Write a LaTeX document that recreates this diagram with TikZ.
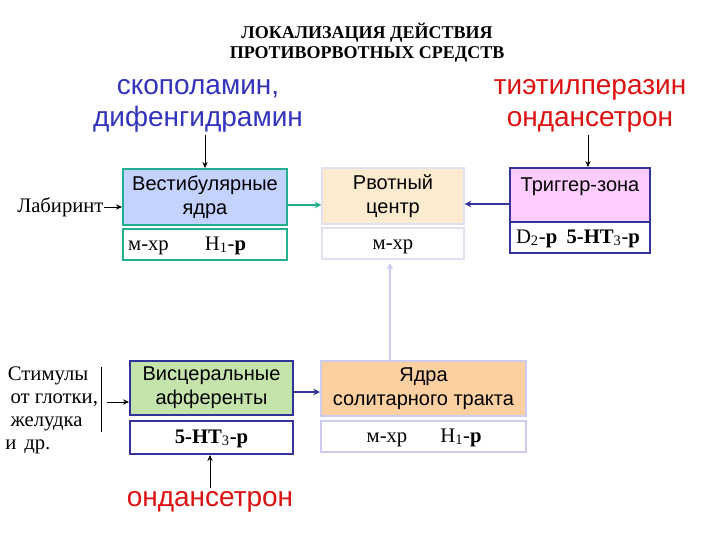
\documentclass[tikz,border=0pt]{standalone}
\usepackage{fontspec}
\setmainfont{Liberation Serif}
\newfontfamily\arial{Liberation Sans}
\usetikzlibrary{arrows.meta}
\definecolor{dblue}{RGB}{51,51,187}
\definecolor{dred}{RGB}{221,17,17}
\definecolor{teal2}{RGB}{32,176,144}
\definecolor{vestfill}{RGB}{196,210,255}
\definecolor{rvotfill}{RGB}{253,235,208}
\definecolor{rvotline}{RGB}{224,224,242}
\definecolor{trigfill}{RGB}{255,204,255}
\definecolor{trigline}{RGB}{51,51,153}
\definecolor{viscfill}{RGB}{196,228,172}
\definecolor{solfill}{RGB}{252,208,160}
\definecolor{solline}{RGB}{204,204,240}
\tikzset{
  bx/.style={draw, rectangle, line width=1.5pt, inner sep=0pt, anchor=center},
  lbl/.style={font=\arial\fontsize{15}{18}\selectfont, align=center, inner sep=0pt},
  sm/.style={font=\fontsize{15.5}{17}\selectfont, inner sep=0pt, anchor=base},
  big/.style={font=\arial\fontsize{21}{24}\selectfont, align=center, inner sep=0pt},
  arr/.style={-{Stealth[length=4.5pt,width=4pt]}},
}
\begin{document}
\begin{tikzpicture}[x=0.75pt,y=-0.75pt]
\useasboundingbox (0,0) rectangle (720,540);
% title
\node[font=\bfseries\fontsize{13.5}{15}\selectfont, align=center, inner sep=0pt] (title) at (367,43) {ЛОКАЛИЗАЦИЯ ДЕЙСТВИЯ\\ПРОТИВОРВОТНЫХ СРЕДСТВ};
% drug labels
\node[big, text=dblue] (scop) at (198,106) {скополамин,\\дифенгидрамин};
\node[big, text=dred] (tiet) at (590,106) {тиэтилперазин\\ондансетрон};
\node[big, text=dred] (ond) at (210,502) {ондансетрон};
% vestibular
\node[bx, draw=teal2, fill=vestfill, minimum width=123pt, minimum height=42pt] (vest) at (205,197) {};
\node[lbl] (vestt) at (vest.center) {Вестибулярные\\ядра};
\node[bx, draw=teal2, fill=white, minimum width=123pt, minimum height=23.25pt] (vestb) at (205,244.5) {};
\node[sm] (vestb1) at (148.5,250) {м-хр};
\node[sm] (vestb2) at (225.5,250) {H\textsubscript{1}-\textbf{р}};
% rvotny
\node[bx, draw=rvotline, line width=1pt, fill=rvotfill, minimum width=106.5pt, minimum height=42pt] (rvot) at (393,196) {};
\node[lbl] (rvott) at (rvot.center) {Рвотный\\центр};
\node[bx, draw=rvotline, line width=1pt, fill=white, minimum width=106.5pt, minimum height=23.25pt] (rvotb) at (393,243.5) {};
\node[sm] (rvotb1) at (393,249) {м-хр};
% trigger
\node[bx, draw=trigline, fill=trigfill, minimum width=105pt, minimum height=40.5pt] (trig) at (580,195) {};
\node[lbl, anchor=base] (trigt) at (580,191) {Триггер-зона};
\node[bx, draw=trigline, fill=white, minimum width=105pt, minimum height=23.25pt] (trigb) at (580,237.5) {};
\node[sm] (trigb1) at (578,243) {D\textsubscript{2}-\textbf{р}\hspace{7pt}\textbf{5-HT}\textsubscript{3}-\textbf{р}};
% visceral
\node[bx, draw=trigline, fill=viscfill, minimum width=122.25pt, minimum height=40.5pt] (visc) at (211.5,388) {};
\node[lbl] (visct) at (visc.center) {Висцеральные\\афференты};
\node[bx, draw=trigline, fill=white, minimum width=122.25pt, minimum height=24.75pt] (viscb) at (211.5,437.5) {};
\node[sm] (viscb1) at (211.5,443) {\textbf{5-HT}\textsubscript{3}\textbf{-р}};
% solitary
\node[bx, draw=solline, fill=solfill, minimum width=153.75pt, minimum height=41.25pt] (sol) at (423.5,388.5) {};
\node[lbl] (solt) at (sol.center) {Ядра\\солитарного тракта};
\node[bx, draw=solline, fill=white, minimum width=153.75pt, minimum height=23.25pt] (solb) at (423.5,436.5) {};
\node[sm] (solb1) at (387,442) {м-хр};
\node[sm] (solb2) at (461,442) {H\textsubscript{1}-\textbf{р}};
% left labels
\node[font=\fontsize{15.5}{17.25}\selectfont, inner sep=0pt, anchor=west] (lab) at (17,207) {Лабиринт};
\node[font=\fontsize{15.5}{17.25}\selectfont, inner sep=0pt, anchor=west, align=left] (stim) at (5,410) {\hspace{2pt}Стимулы\\\hspace{4pt}от глотки,\\\hspace{4pt}желудка\\и\hspace{6pt}др.};
\coordinate (sl1) at (101,367);
\coordinate (sl2) at (101,432);
\draw[line width=0.75pt] (sl1) -- (sl2);
\coordinate (sa1) at (107,402);
% arrows
\coordinate (scopend) at (205,135);
\coordinate (tietend) at (588,135);
\coordinate (ondend) at (210,488);
\draw[arr, line width=0.75pt] (scopend) -- (vest.north -| scopend);
\draw[arr, line width=0.75pt] (tietend) -- (trig.north -| tietend);
\draw[arr, line width=0.75pt] (ondend) -- (viscb.south -| ondend);
\draw[arr, line width=0.75pt] (lab.east) -- (vest.west |- lab.east);
\draw[arr, line width=0.75pt] (sa1) -- (visc.west |- sa1);
\draw[arr, line width=1.5pt, draw=teal2, -{Stealth[length=5pt,width=5pt]}] (287,205) -- (rvot.west |- 287,205);
\draw[arr, line width=1.5pt, draw=trigline, -{Stealth[length=5pt,width=5pt]}] (trig.west |- 0,204) -- (rvot.east |- 0,204);
\draw[arr, line width=1.5pt, draw=trigline, -{Stealth[length=5pt,width=5pt]}] (visc.east |- 0,392) -- (sol.west |- 0,392);
\draw[line width=1.5pt, draw=solline, -{Stealth[length=5pt,width=5pt]}] (sol.north -| 390,0) -- (390,263);
\end{tikzpicture}
\end{document}
